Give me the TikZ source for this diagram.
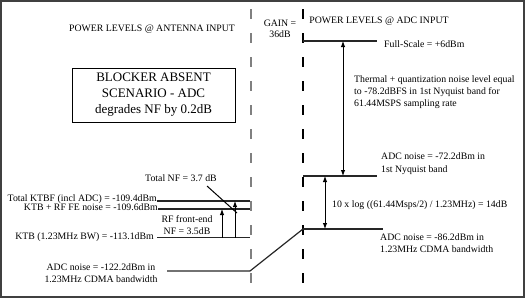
\documentclass[tikz,border=0pt]{standalone}
\usepackage{fontspec}
\setmainfont{Liberation Serif}
\usetikzlibrary{arrows.meta,positioning}

\begin{document}
\begin{tikzpicture}[
  x=1pt, y=-1pt,
  every node/.style={font=\fontsize{9.8}{12}\selectfont, inner sep=0pt},
  lvl/.style={line width=1.2pt, draw=black!85},
  sep/.style={line width=1.3pt, dash pattern=on 10pt off 14pt},
  arr/.style={-{Latex[length=6pt,width=4.5pt]}, line width=0.9pt},
  dbl/.style={{Latex[length=6pt,width=4.5pt]}-{Latex[length=6pt,width=4.5pt]}, line width=0.9pt},
  txt/.style={align=left, anchor=west}
]
  \useasboundingbox (0,0) rectangle (525,298);
  \draw[line width=1.6pt, draw=black!75] (1,1) rectangle (524,297);

  % antenna / ADC separators
  \coordinate (sepLtop) at (251,9);
  \coordinate (sepLbot) at (251,292);
  \coordinate (sepRtop) at (303,9);
  \coordinate (sepRbot) at (303,292);
  \draw[sep, draw=black!50] (sepLtop) -- (sepLbot);
  \draw[sep] (sepRtop) -- (sepRbot);

  % headings
  \node (ant) at (152,29) {POWER LEVELS @ ANTENNA INPUT};
  \node (adc) at (379,21) {POWER LEVELS @ ADC INPUT};
  \node (gain) [align=center, font=\fontsize{9.8}{11}\selectfont] at (280,28.5) {GAIN =\\36dB};
  \node (blk) [draw, line width=0.8pt, align=center, minimum width=163pt, minimum height=54pt,
    font=\fontsize{13}{16}\selectfont] at (153.5,95) {BLOCKER ABSENT\\SCENARIO - ADC\\degrades NF by 0.2dB};

  % ADC side levels
  \coordinate (fsL) at (303,41);
  \coordinate (fsR) at (377,41);
  \coordinate (nyL) at (303,176);
  \coordinate (nyR) at (377,176);
  \coordinate (cdL) at (303,229);
  \coordinate (cdR) at (383,229);
  \draw[lvl] (fsL) -- (fsR);
  \draw[lvl] (nyL) -- (nyR);
  \draw[lvl] (cdL) -- (cdR);

  \node (fs) [txt] at (384,44) {Full-Scale = +6dBm};
  \node (therm) [txt] at (354,92) {Thermal + quantization noise level equal\\to -78.2dBFS in 1st Nyquist band for\\61.44MSPS sampling rate};
  \node (ny) [txt, font=\fontsize{9.8}{13}\selectfont] at (381,163.5) {ADC noise = -72.2dBm in\\1st Nyquist band};
  \node (log) [txt] at (332,205) {10 x log ((61.44Msps/2) / 1.23MHz) = 14dB};
  \node (cd) [txt] at (380,243) {ADC noise = -86.2dBm in\\1.23MHz CDMA bandwidth};

  \coordinate (fsA) at (343,41);
  \coordinate (nyA) at (343,176);
  \coordinate (logT) at (325,176);
  \coordinate (logB) at (325,229);
  \draw[dbl] (fsA) -- (nyA);
  \draw[dbl] (logT) -- (logB);

  % antenna side levels
  \node (lktbf) [anchor=east] at (157,199) {Total KTBF (incl ADC) = -109.4dBm};
  \node (lfe) [anchor=east] at (158,207) {KTB + RF FE noise = -109.6dBm};
  \node (lktb) [anchor=east] at (154,237) {KTB (1.23MHz BW) = -113.1dBm};
  \coordinate (ktbfR) at (250,201);
  \coordinate (feR) at (250,209);
  \coordinate (ktbR) at (250,237.5);
  \draw[lvl] (lktbf.east |- ktbfR) -- (ktbfR);
  \draw[lvl] (lfe.east |- feR) -- (feR);
  \draw[lvl] ([xshift=3pt]lktb.east |- ktbR) -- (ktbR);

  \coordinate (feA) at (222,237.5);
  \coordinate (feT) at (222,209);
  \coordinate (nfA) at (235,237.5);
  \coordinate (nfT) at (235,201);
  \draw[arr] (feA) -- (feT);
  \draw[arr] (nfA) -- (nfT);

  \node (tnf) at (181,178) {Total NF = 3.7 dB};
  \coordinate (tnfS) at (207,186);
  \coordinate (tnfP) at (237,213);
  \draw[line width=1pt] (tnfS) -- (tnfP);
  \node (rffe) [align=center] at (187,225) {RF front-end\\NF = 3.5dB};

  % ADC noise floor referred to antenna
  \node (low) [align=center] at (101,273) {ADC noise = -122.2dBm in\\1.23MHz CDMA bandwidth};
  \coordinate (lowL) at (167,271);
  \coordinate (lowR) at (250,271);
  \draw[lvl] (lowL) -- (lowR) -- (cdL);
\end{tikzpicture}
\end{document}
